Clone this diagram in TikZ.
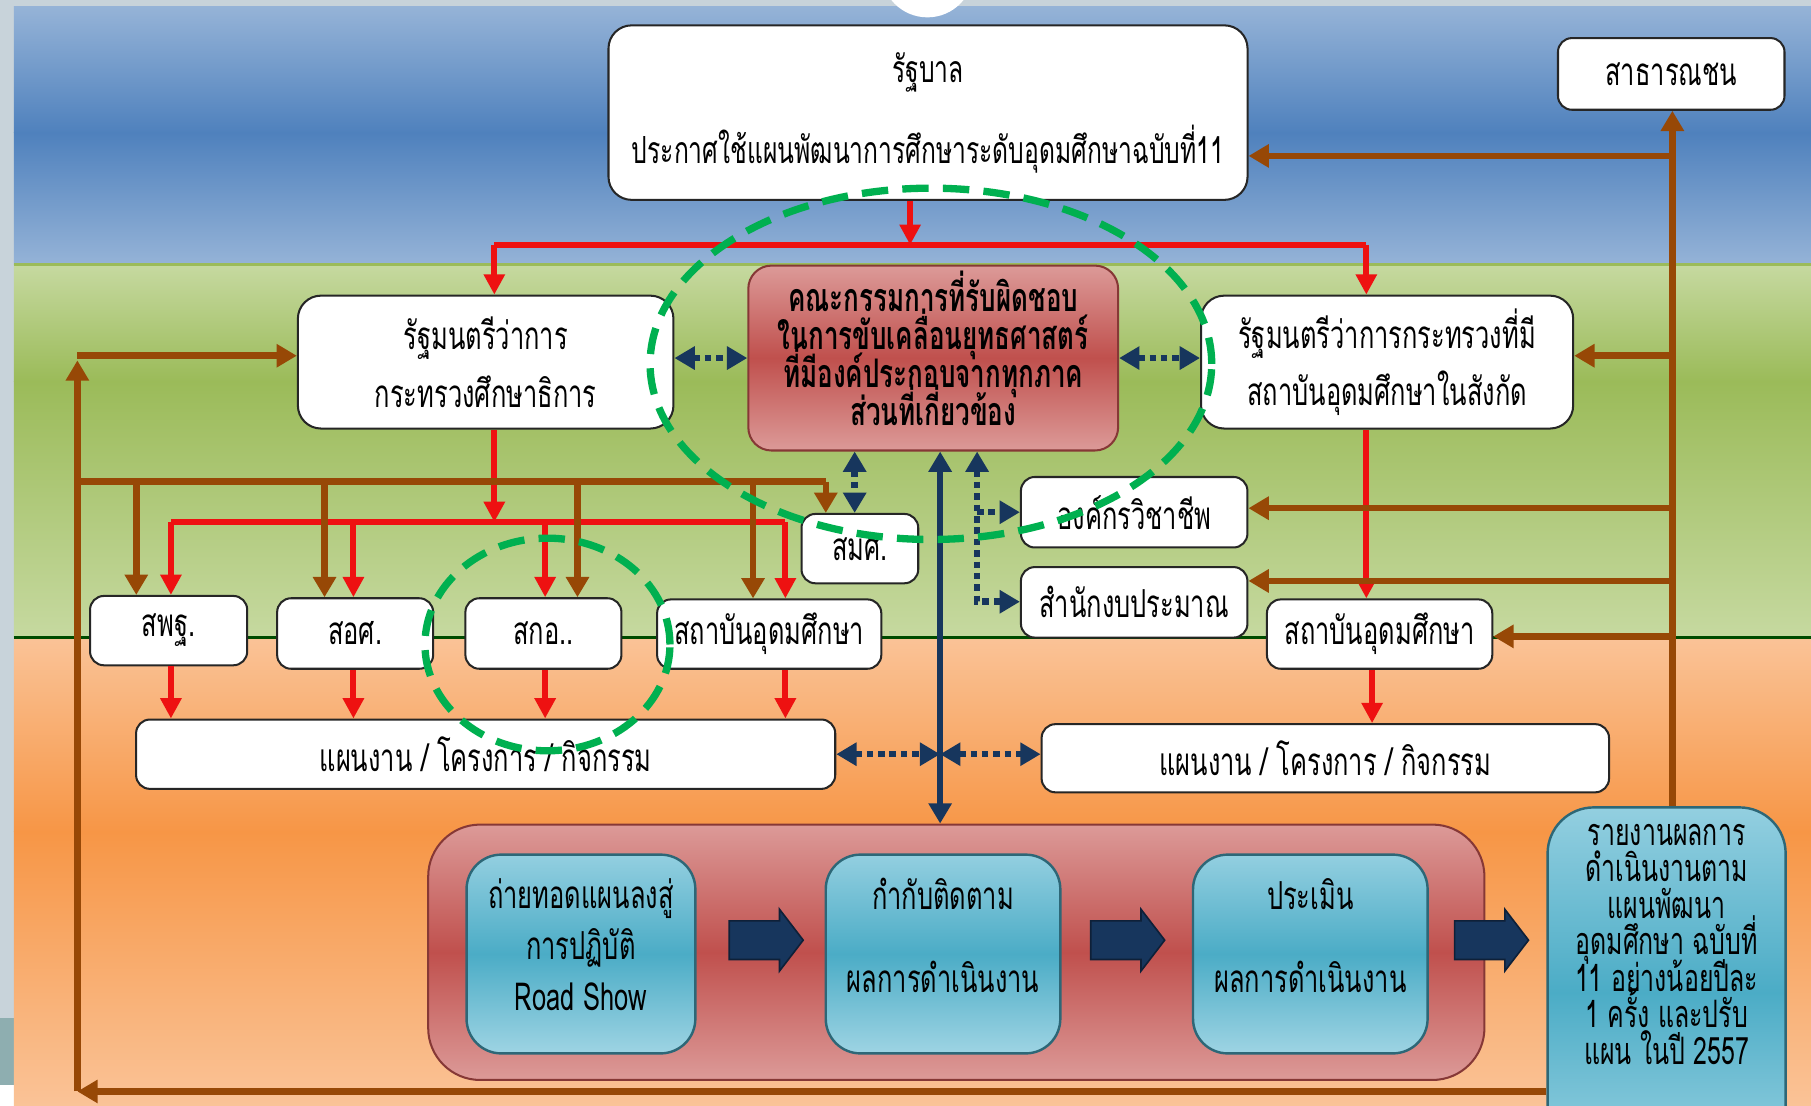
\documentclass[tikz,border=0pt]{standalone}
\usepackage{fontspec}
\newfontfamily\thaifont[Script=Thai,FakeStretch=0.66]{Loma}
\usetikzlibrary{arrows.meta,shapes.arrows,positioning}
\setlength{\lineskiplimit}{-20pt}
\setlength{\lineskip}{0pt}

\definecolor{skyA}{HTML}{95B3D7}
\definecolor{skyB}{HTML}{4F81BD}
\definecolor{grnA}{HTML}{C6D9A0}
\definecolor{grnB}{HTML}{9BBB59}
\definecolor{orgA}{HTML}{FAC397}
\definecolor{orgB}{HTML}{F79646}
\definecolor{stripgray}{HTML}{C8D3DA}
\definecolor{stripteal}{HTML}{8EAEB0}
\definecolor{redln}{HTML}{EE1111}
\definecolor{brn}{HTML}{974806}
\definecolor{navy}{HTML}{17365D}
\definecolor{grdash}{HTML}{00B050}
\definecolor{pinkA}{HTML}{DC9A98}
\definecolor{redB}{HTML}{C0504D}
\definecolor{tealA}{HTML}{93CFE0}
\definecolor{tealB}{HTML}{4BACC6}

\tikzset{
  wbox/.style={draw=black!85, fill=white, rounded corners=1.2mm, line width=0.5pt,
    align=center, inner sep=0pt, font=\thaifont\fontsize{9.5}{12}\selectfont},
  redbox/.style={draw=redB!70!black, top color=pinkA, bottom color=pinkA, middle color=redB,
    rounded corners=2mm, line width=0.5pt, inner sep=0pt},
  tealbox/.style={draw=tealB!60!black, top color=tealA, bottom color=tealA!90!white, middle color=tealB,
    rounded corners=3mm, line width=0.6pt, inner sep=0pt},
  txtlab/.style={align=center, inner sep=0pt, font=\thaifont\fontsize{9.5}{20.5}\selectfont},
  blockarr/.style={shape=single arrow, fill=navy, draw=navy!60!black, inner xsep=0pt, inner ysep=0.16cm,
    minimum height=0.64cm, single arrow head extend=0.1cm, single arrow tip angle=105},
  redarr/.style={draw=redln, line width=1.5pt, -{Triangle[length=5pt,width=5pt]}},
  redline/.style={draw=redln, line width=1.5pt},
  brnarr/.style={draw=brn, line width=1.6pt, -{Triangle[length=5pt,width=5.5pt]}},
  brnline/.style={draw=brn, line width=1.6pt},
  navydot/.style={draw=navy, line width=1.6pt, dash pattern=on 1.6pt off 1.2pt,
    arrows={-{Triangle[length=5pt,width=5.5pt]}}},
  navytwo/.style={arrows={{Triangle[length=5pt,width=5.5pt]}-{Triangle[length=5pt,width=5.5pt]}}},
  navysol/.style={draw=navy, line width=1.6pt},
  grring/.style={draw=grdash, line width=1.8pt, dash pattern=on 6.5pt off 3.5pt}
}

\begin{document}
\begin{tikzpicture}[x=0.01cm,y=-0.01cm]
  \useasboundingbox (0,0) rectangle (1568,957);

  % background bands
  \fill[white] (0,0) rectangle (1568,957);
  \fill[stripgray] (0,0) rectangle (1568,6);
  \fill[stripgray] (0,0) rectangle (12,881);
  \fill[stripteal] (0,881) rectangle (12,939);
  \shade[top color=skyA, bottom color=skyB] (12,6) rectangle (1568,115);
  \shade[top color=skyB, bottom color=skyA] (12,115) rectangle (1568,229);
  \fill[white] (803,-25) circle (0.4cm);
  \shade[top color=grnA, bottom color=grnB] (12,229) rectangle (1568,330);
  \shade[top color=grnB, bottom color=grnA] (12,330) rectangle (1568,552);
  \shade[top color=orgA, bottom color=orgB] (12,552) rectangle (1568,720);
  \shade[top color=orgB, bottom color=orgA] (12,720) rectangle (1568,957);
  \draw[grnB, line width=0.6pt] (12,229) -- (1568,229);
  \draw[green!30!black, line width=0.8pt] (12,552) -- (1568,552);

  % boxes
  \node[wbox, minimum width=5.53cm, minimum height=1.51cm, rounded corners=2mm,
    font=\thaifont\fontsize{9.2}{20}\selectfont] (gov) at (803.5,97.5)
    {รัฐบาล\\ประกาศใช้แผนพัฒนาการศึกษาระดับอุดมศึกษาฉบับที่11};
  \node[wbox, minimum width=1.96cm, minimum height=0.62cm] (pub) at (1447,64) {สาธารณชน};
  \node[wbox, minimum width=3.25cm, minimum height=1.15cm, rounded corners=2mm,
    font=\thaifont\fontsize{9.5}{14.2}\selectfont] (moe) at (420.5,313.5)
    {รัฐมนตรีว่าการ\\กระทรวงศึกษาธิการ};
  \node[redbox, minimum width=3.2cm, minimum height=1.6cm] (cmt) at (808,310) {};
  \node[txtlab, font=\thaifont\bfseries\fontsize{9.7}{9.3}\selectfont] (cmttxt) at (808,301.5)
    {คณะกรรมการที่รับผิดชอบ\\ในการขับเคลื่อนยุทธศาสตร์\\ที่มีองค์ประกอบจากทุกภาค\\ส่วนที่เกี่ยวข้อง};
  \node[wbox, minimum width=3.22cm, minimum height=1.15cm, rounded corners=2mm,
    font=\thaifont\fontsize{9.5}{14.2}\selectfont] (omin) at (1201,313.5)
    {รัฐมนตรีว่าการกระทรวงที่มี\\สถาบันอุดมศึกษาในสังกัด};
  \node[wbox, minimum width=1.01cm, minimum height=0.6cm] (smk) at (744.5,475) {สมศ.};
  \node[wbox, minimum width=1.96cm, minimum height=0.61cm] (prof) at (982,443.5) {องค์กรวิชาชีพ};
  \node[wbox, minimum width=1.96cm, minimum height=0.61cm] (budg) at (982,521.5) {สำนักงบประมาณ};
  \node[wbox, minimum width=1.36cm, minimum height=0.6cm] (obec) at (146,546) {สพฐ.};
  \node[wbox, minimum width=1.35cm, minimum height=0.61cm] (ovec) at (307.5,548.5) {สอศ.};
  \node[wbox, minimum width=1.35cm, minimum height=0.61cm] (ohec) at (470.5,548.5) {สกอ..};
  \node[wbox, minimum width=1.94cm, minimum height=0.6cm] (hiL) at (666,549) {สถาบันอุดมศึกษา};
  \node[wbox, minimum width=1.95cm, minimum height=0.6cm] (hiR) at (1194.5,549) {สถาบันอุดมศึกษา};
  \node[wbox, minimum width=6.05cm, minimum height=0.6cm] (planL) at (420.5,653) {แผนงาน / โครงการ / กิจกรรม};
  \node[wbox, minimum width=4.91cm, minimum height=0.59cm] (planR) at (1147.5,656.5) {แผนงาน / โครงการ / กิจกรรม};

  % steps
  \node[redbox, minimum width=9.14cm, minimum height=2.21cm, rounded corners=4.5mm] (cont) at (828,824.5) {};
  \node[tealbox, minimum width=1.98cm, minimum height=1.72cm] (st1) at (503,826) {};
  \node[txtlab, font=\thaifont\fontsize{9.5}{12.5}\selectfont] (st1txt) at (503,818)
    {ถ่ายทอดแผนลงสู่\\การปฏิบัติ\\Road Show};
  \node[tealbox, minimum width=2.03cm, minimum height=1.72cm] (st2) at (816.5,826) {};
  \node[txtlab] (st2txt) at (816.5,810) {กำกับติดตาม\\ผลการดำเนินงาน};
  \node[tealbox, minimum width=2.03cm, minimum height=1.72cm] (st3) at (1134.5,826) {};
  \node[txtlab] (st3txt) at (1134.5,810) {ประเมิน\\ผลการดำเนินงาน};
  \node[blockarr] (ba1) at (657,814) {};
  \node[blockarr] (ba2) at (970,814) {};
  \node[blockarr] (ba3) at (1285,814) {};
  \node[tealbox, anchor=north, minimum width=2.06cm, minimum height=3.2cm, rounded corners=4mm] (rep) at (1443,698) {};
  \node[txtlab, font=\thaifont\fontsize{9.3}{9}\selectfont] (reptxt) at (1443,817.5)
    {รายงานผลการ\\ดำเนินงานตาม\\แผนพัฒนา\\อุดมศึกษา ฉบับที่\\11 อย่างน้อยปีละ\\1 ครั้ง และปรับ\\แผน ในปี 2557};

  % red lines
  \coordinate (gJ) at (788,212);
  \coordinate (rA) at (428,212);
  \coordinate (rB) at (1183,212);
  \draw[redarr] (gov.south -| gJ) -- (gJ);
  \draw[redline] (rA) -- (rB);
  \draw[redarr] (rA) -- (rA |- moe.north);
  \draw[redarr] (rB) -- (rB |- omin.north);
  \coordinate (mJ) at (428,452);
  \coordinate (b1) at (148,452);
  \coordinate (b2) at (306,452);
  \coordinate (b3) at (472,452);
  \coordinate (b4) at (680,452);
  \draw[redarr] (moe.south -| mJ) -- (mJ);
  \draw[redline] (b1) -- (b4);
  \draw[redarr] (b1) -- (b1 |- obec.north);
  \draw[redarr] (b2) -- (b2 |- ovec.north);
  \draw[redarr] (b3) -- (b3 |- ohec.north);
  \draw[redarr] (b4) -- (b4 |- hiL.north);
  \draw[redarr] (b1 |- obec.south) -- (b1 |- planL.north);
  \draw[redarr] (b2 |- ovec.south) -- (b2 |- planL.north);
  \draw[redarr] (b3 |- ohec.south) -- (b3 |- planL.north);
  \draw[redarr] (b4 |- hiL.south) -- (b4 |- planL.north);
  \draw[redarr] (rB |- omin.south) -- (rB |- hiR.north);
  \coordinate (hR) at (1188,600);
  \draw[redarr] (hR |- hiR.south) -- (hR |- planR.north);

  % brown feedback lines
  \coordinate (tr) at (1448,0);
  \draw[brnarr] (tr |- rep.north) -- (tr |- pub.south);
  \coordinate (t1) at (1448,135);
  \coordinate (t2) at (1448,308);
  \coordinate (t3) at (1448,440);
  \coordinate (t4) at (1448,503);
  \coordinate (t5) at (1448,551);
  \draw[brnarr] (t1) -- (t1 -| gov.east);
  \draw[brnarr] (t2) -- (t2 -| omin.east);
  \draw[brnarr] (t3) -- (t3 -| prof.east);
  \draw[brnarr] (t4) -- (t4 -| budg.east);
  \draw[brnarr] (t5) -- (t5 -| hiR.east);
  \coordinate (lb) at (67,945);
  \coordinate (lt) at (67,308);
  \draw[brnarr] (rep.west |- lb) -- (lb);
  \draw[brnarr] (lb) -- (67,312);
  \draw[brnarr] (lt) -- (lt -| moe.west);
  \coordinate (s0) at (67,417);
  \coordinate (s1) at (118,417);
  \coordinate (s2) at (281,417);
  \coordinate (s3) at (500,417);
  \coordinate (s4) at (652,417);
  \coordinate (s5) at (715,417);
  \draw[brnline] (s0) -- (s5);
  \draw[brnarr] (s1) -- (s1 |- obec.north);
  \draw[brnarr] (s2) -- (s2 |- ovec.north);
  \draw[brnarr] (s3) -- (s3 |- ohec.north);
  \draw[brnarr] (s4) -- (s4 |- hiL.north);
  \draw[brnarr] (s5) -- (s5 |- smk.north);

  % navy links
  \draw[navydot,navytwo] (cmt.west -| moe.east) -- (cmt.west);
  \draw[navydot,navytwo] (cmt.east) -- (cmt.east -| omin.west);
  \coordinate (sv) at (740,0);
  \draw[navydot,navytwo] (sv |- cmt.south) -- (sv |- smk.north);
  \coordinate (nv) at (814,653);
  \draw[navysol,navytwo] (nv |- cmt.south) -- (nv |- cont.north);
  \draw[navydot,navytwo] (planL.east |- nv) -- (nv);
  \draw[navydot,navytwo] (nv) -- (planR.west |- nv);
  \coordinate (dv) at (846,521);
  \draw[navydot,navytwo] (dv |- cmt.south) -- (dv) -- (dv -| budg.west);
  \draw[navydot] (dv |- prof.west) -- (prof.west);

  % green rings
  \draw[grring] (806,315) ellipse [x radius=2.43cm, y radius=1.52cm];
  \draw[grring] (474,558) ellipse [x radius=1.06cm, y radius=0.92cm];
\end{tikzpicture}
\end{document}
